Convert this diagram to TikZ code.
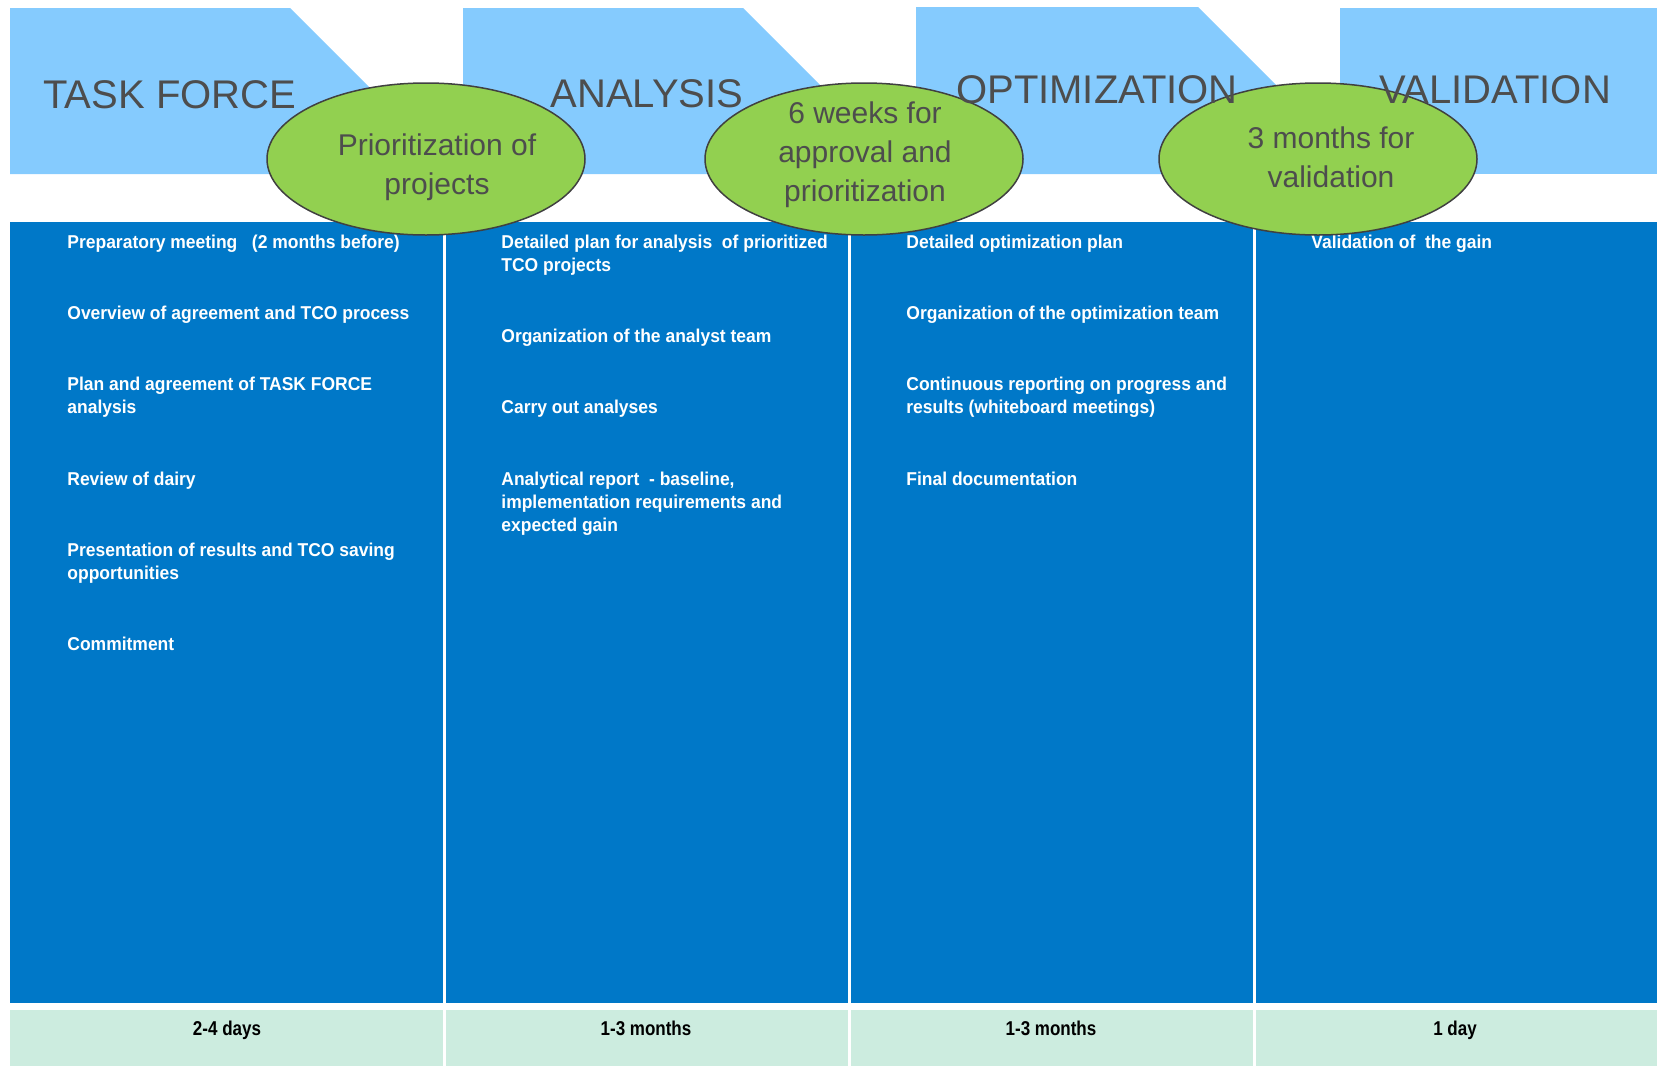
\documentclass[tikz,border=0pt]{standalone}
\usepackage{fontspec}
\setmainfont{Liberation Sans}
\newfontfamily\narrowfont[FakeStretch=0.94]{Liberation Sans}
\newfontfamily\durfont[FakeStretch=0.85]{Liberation Sans}
\usetikzlibrary{positioning,shapes.geometric}
\definecolor{bannerblue}{HTML}{85CBFE}
\definecolor{panelblue}{HTML}{0078C8}
\definecolor{hubgreen}{HTML}{92D050}
\definecolor{durgreen}{HTML}{CCECDF}
\definecolor{titlegray}{HTML}{4D4D4D}
\tikzset{
	banner/.style={fill=bannerblue},
	phase/.style={text=titlegray, font=\fontsize{20}{24}\selectfont, inner sep=0pt, anchor=base},
	hub/.style={ellipse, fill=hubgreen, draw=black!75, line width=0.75pt, minimum width=159pt, minimum height=76pt, inner sep=0pt},
	hubtext/.style={text=titlegray, font=\fontsize{15}{19.5}\selectfont, align=center, inner sep=0pt, anchor=north},
	task/.style={text=white, font=\narrowfont\bfseries\fontsize{9.3}{11.6}\selectfont, align=left, inner sep=0pt, anchor=north west},
	dur/.style={text=black, font=\durfont\bfseries\fontsize{10}{12}\selectfont, inner sep=0pt, anchor=base},
}
\begin{document}
\begin{tikzpicture}[x=0.5pt,y=-0.5pt]
		\useasboundingbox (0,0) rectangle (1659,1066);
		% phase banners
		\fill[banner] (10,8)--(290,8)--(430,148)--(430,174)--(10,174)--cycle;
		\fill[banner] (463,8)--(743,8)--(870,135)--(870,174)--(463,174)--cycle;
		\fill[banner] (916,7)--(1198,7)--(1316,125)--(1316,174)--(916,174)--cycle;
		\fill[banner] (1340,8) rectangle (1657,174);
		
		\fill[panelblue] (10,222) rectangle (1657,1003);
		\fill[durgreen] (10,1010) rectangle (1657,1066);
		\foreach \x in {444,849,1254}
			\draw[white,line width=1.5pt] (\x,222)--(\x,1066);
		
		\node[task] (tf) at (67,234.5) {Preparatory meeting\ \ \ (2 months before)\\[24pt]
			Overview of agreement and TCO process\\[24pt]
			Plan and agreement of TASK FORCE\\ analysis\\[24pt]
			Review of dairy\\[24pt]
			Presentation of results and TCO saving\\ opportunities\\[24pt]
			Commitment};
		\node[task] (an) at (501,234.5) {Detailed plan for analysis\ \ of prioritized\\ TCO projects\\[24pt]
			Organization of the analyst team\\[24pt]
			Carry out analyses\\[24pt]
			Analytical report\ \ - baseline,\\ implementation requirements and\\ expected gain};
		\node[task] (op) at (906,234.5) {Detailed optimization plan\\[24pt]
			Organization of the optimization team\\[24pt]
			Continuous reporting on progress and\\ results (whiteboard meetings)\\[24pt]
			Final documentation};
		\node[task] (va) at (1311,234.5) {Validation of\ \ the gain};
		
		\node[dur] (d1) at (227,1035) {2-4 days};
		\node[dur] (d2) at (646,1035) {1-3 months};
		\node[dur] (d3) at (1051,1035) {1-3 months};
		\node[dur] (d4) at (1455,1035) {1 day};
		
		% milestones
		\node[hub] (h1) at (426,159) {};
		\node[hub] (h2) at (864,159) {};
		\node[hub] (h3) at (1318,159) {};
		\node[hubtext] (h1t) at (437,133) {Prioritization of\\ projects};
		\node[hubtext] (h2t) at (865,101) {6 weeks for\\ approval and\\ prioritization};
		\node[hubtext] (h3t) at (1331,126) {3 months for\\ validation};
		
		\node[phase,anchor=base west] (p1) at (43,108) {TASK FORCE};
		\node[phase] (p2) at (647,107) {ANALYSIS};
		\node[phase] (p3) at (1097,103) {OPTIMIZATION};
		\node[phase] (p4) at (1495,103) {VALIDATION};
	\end{tikzpicture}
\end{document}
